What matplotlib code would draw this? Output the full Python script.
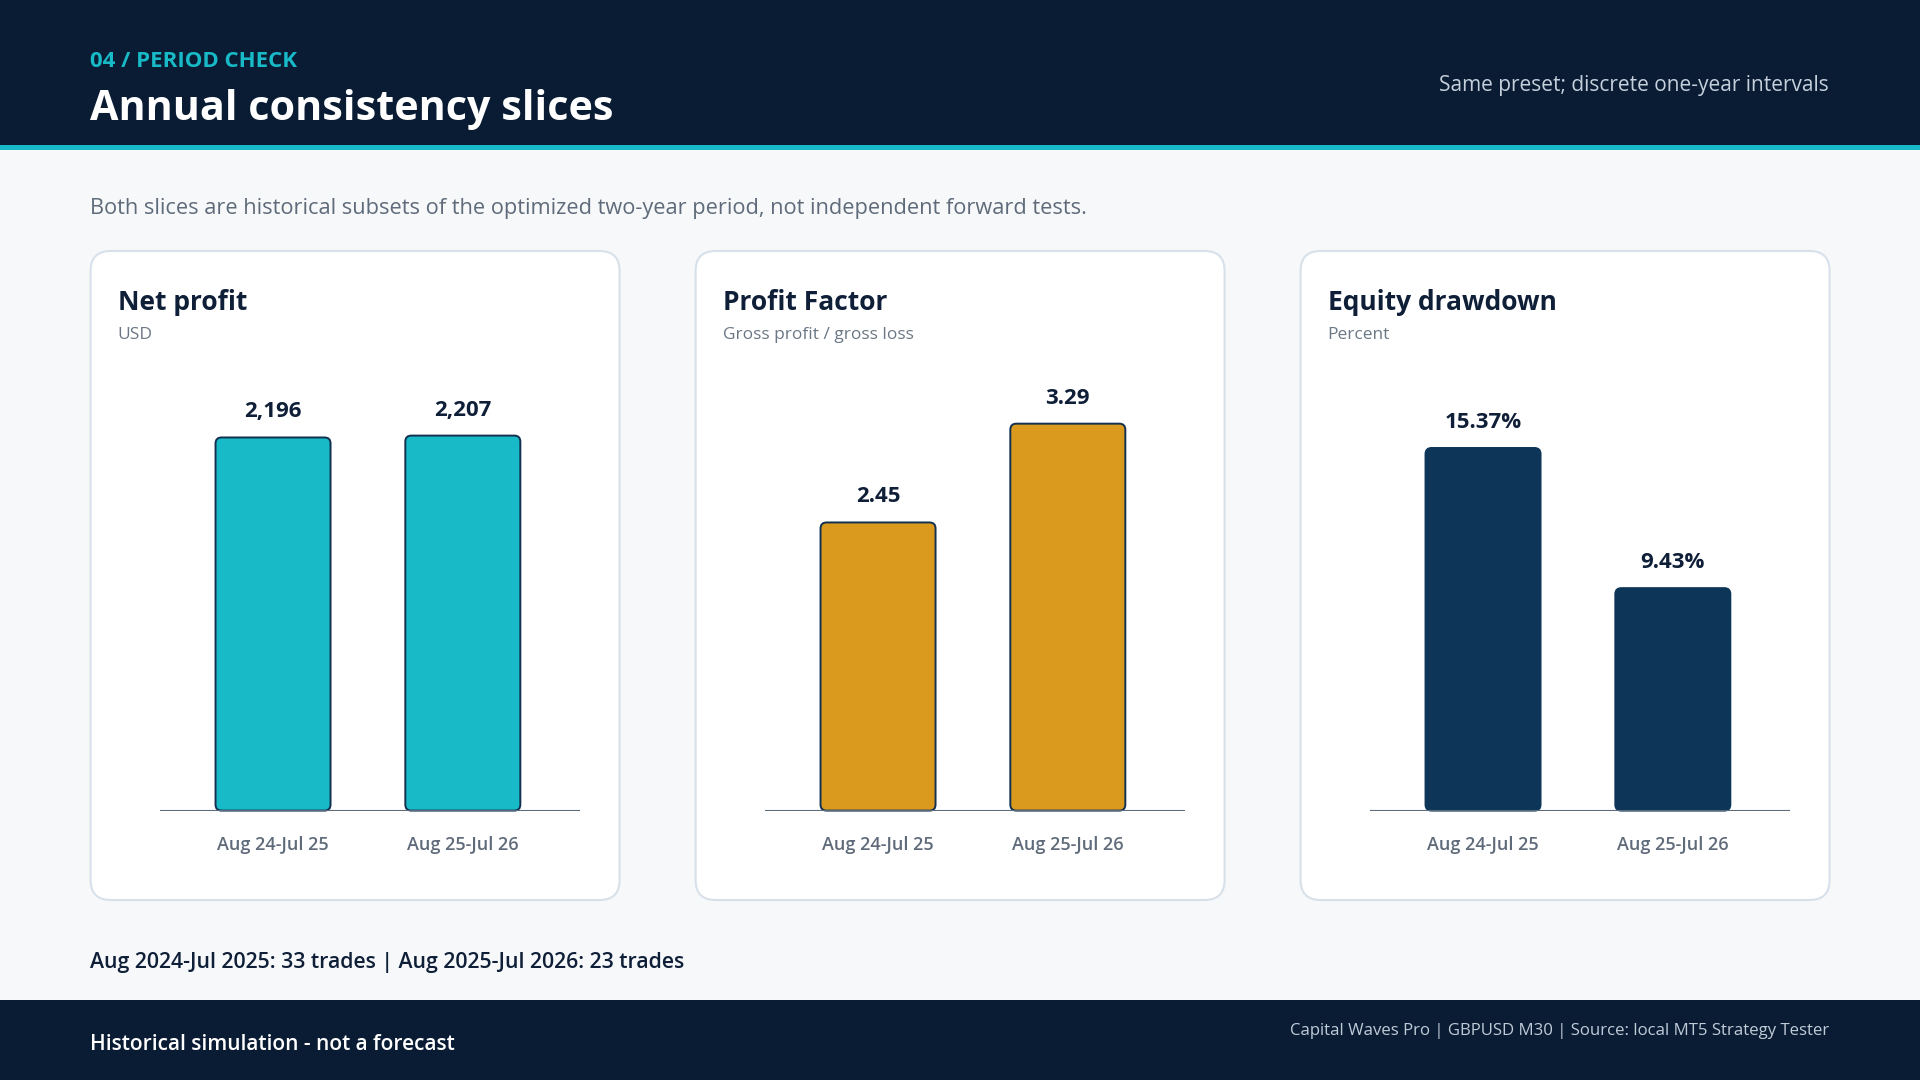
import matplotlib
matplotlib.use('Agg')
import matplotlib.pyplot as plt
from matplotlib.patches import Rectangle, FancyBboxPatch

plt.rcParams['font.family'] = ['Open Sans', 'DejaVu Sans']

# data
periods = ['Aug 24-Jul 25', 'Aug 25-Jul 26']
net_profit = [2196, 2207]
profit_factor = [2.45, 3.29]
equity_drawdown = [15.37, 9.43]
panel_titles = ['Net profit', 'Profit Factor', 'Equity drawdown']
panel_units = ['USD', 'Gross profit / gross loss', 'Percent']
trade_periods = ['Aug 2024-Jul 2025', 'Aug 2025-Jul 2026']
trade_counts = [33, 23]

NAVY = '#0A1C33'
TEAL = '#17BAC6'
GOLD = '#D99A1E'
DEEP = '#0C3558'
INK = '#0F1F38'
GREY = '#5F6B7A'

W, H = 1920, 1080
fig = plt.figure(figsize=(19.2, 10.8), dpi=100)
fig.patch.set_facecolor('#F6F8FA')

# pixel-space canvas for the page chrome
bg = fig.add_axes([0, 0, 1, 1])
bg.set_xlim(0, W)
bg.set_ylim(H, 0)
bg.axis('off')

def pt(px):
    return px * 0.72

bg.add_patch(Rectangle((0, 0), W, 145, color=NAVY, lw=0))
bg.add_patch(Rectangle((0, 145), W, 5, color=TEAL, lw=0))
bg.add_patch(Rectangle((0, 1000), W, 80, color=NAVY, lw=0))

bg.text(90, 67, '04 / PERIOD CHECK', color=TEAL, fontsize=16, fontweight='bold', va='baseline')
bg.text(90, 120, 'Annual consistency slices', color='white', fontsize=29.7, fontweight='bold', va='baseline')
bg.text(1829, 91, 'Same preset; discrete one-year intervals', color='#C5D0DC', fontsize=15,
        ha='right', va='baseline')
bg.text(90, 214, 'Both slices are historical subsets of the optimized two-year period, '
        'not independent forward tests.', color=GREY, fontsize=15.7, va='baseline')

note = ' | '.join(f'{p}: {n} trades' for p, n in zip(trade_periods, trade_counts))
bg.text(90, 968, note, color=INK, fontsize=15.3, fontweight='semibold', va='baseline')
bg.text(90, 1050, 'Historical simulation - not a forecast', color='white', fontsize=15,
        fontweight='semibold', va='baseline')
bg.text(1829, 1035, 'Capital Waves Pro | GBPUSD M30 | Source: local MT5 Strategy Tester',
        color='#C0CBD8', fontsize=12.1, ha='right', va='baseline')

panels = [
    (net_profit, TEAL, '#12304F', '{:,.0f}', 1.200),
    (profit_factor, GOLD, '#12304F', '{:.2f}', 1.163),
    (equity_drawdown, DEEP, DEEP, '{:.2f}%', 1.241),
]

card_w, card_h, card_top = 529, 649, 251
ax_w, ax_h, base_y = 420, 450, 810.6
xlo, xhi = -0.594, 1.619

for i, (vals, fill, edge, fmt, headroom) in enumerate(panels):
    x0 = 90.6 + 605 * i
    bg.add_patch(FancyBboxPatch((x0, card_top), card_w, card_h,
                                boxstyle='round,pad=0,rounding_size=20',
                                fc='white', ec='#D8E1EA', lw=1.5))
    bg.text(x0 + 27, 310, panel_titles[i], color=INK, fontsize=19, fontweight='bold', va='baseline')
    bg.text(x0 + 27, 339, panel_units[i], color='#6B7785', fontsize=12.5, va='baseline')

    ax = fig.add_axes([(x0 + 69.7) / W, (H - base_y) / H, ax_w / W, ax_h / H])
    ax.patch.set_alpha(0)
    ymax = max(vals) * headroom
    ax.set_xlim(xlo, xhi)
    ax.set_ylim(0, ymax)
    bars = ax.bar(range(len(vals)), vals, width=0.606, color=fill)

    # swap square bars for rounded ones
    xu = (xhi - xlo) / ax_w
    yu = ymax / ax_h
    for b in bars:
        rb = FancyBboxPatch((b.get_x(), 0), b.get_width(), b.get_height(),
                            boxstyle=f'round,pad=0,rounding_size={6 * xu}',
                            mutation_aspect=yu / xu, fc=fill, ec=edge, lw=1.4,
                            clip_on=False, zorder=3)
        ax.add_patch(rb)
        b.remove()

    for j, v in enumerate(vals):
        ax.annotate(fmt.format(v), (j, v), xytext=(0, pt(20)), textcoords='offset points',
                    ha='center', va='baseline', fontsize=16, fontweight='bold', color=INK)

    ax.axhline(0, color='#5B6B7C', lw=1.5, zorder=4)
    for s in ax.spines.values():
        s.set_visible(False)
    ax.set_yticks([])
    ax.set_xticks(range(len(periods)), periods)
    ax.tick_params(axis='x', length=0, pad=18, labelsize=13, labelcolor=GREY)
    for lab in ax.get_xticklabels():
        lab.set_fontweight('semibold')

fig.savefig('out.png', dpi=100, facecolor=fig.get_facecolor())
